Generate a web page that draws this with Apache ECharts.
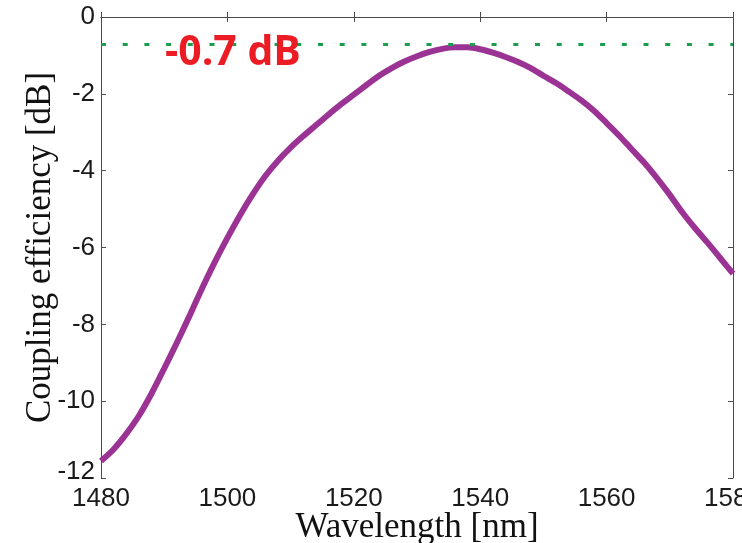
<!DOCTYPE html>
<html>
<head>
<meta charset="utf-8">
<script src="https://cdn.jsdelivr.net/npm/echarts@6/dist/echarts.min.js"></script>
<style>
html,body{margin:0;padding:0;background:#fff;}
#chart{width:742px;height:543px;}
</style>
</head>
<body>
<div id="chart"></div>
<script>
// Data
var wavelengths = [1480,1482,1484,1486,1488,1490,1492,1494,1496,1498,1500,1502,1504,1506,1508,1510,1512,1514,1516,1518,1520,1522,1524,1526,1528,1530,1532,1534,1536,1538,1540,1542,1544,1546,1548,1550,1552,1554,1556,1558,1560,1562,1564,1566,1568,1570,1572,1574,1576,1578,1580];
var couplingDb = [-11.56,-11.25,-10.85,-10.38,-9.80,-9.15,-8.48,-7.78,-7.06,-6.38,-5.75,-5.16,-4.62,-4.14,-3.74,-3.40,-3.10,-2.82,-2.54,-2.27,-2.02,-1.77,-1.53,-1.33,-1.16,-1.02,-0.91,-0.83,-0.79,-0.79,-0.84,-0.93,-1.04,-1.17,-1.33,-1.53,-1.72,-1.94,-2.17,-2.44,-2.76,-3.09,-3.45,-3.80,-4.20,-4.63,-5.09,-5.50,-5.88,-6.28,-6.68];
var referenceLevel = -0.7;
var referenceLabel = '-0.7 dB';
var xTicks = {min: 1480, max: 1580, interval: 20};
var yTicks = {min: -12, max: 0, interval: 2};

var seriesData = wavelengths.map(function (w, i) { return [w, couplingDb[i]]; });

var chart = echarts.init(document.getElementById('chart'), null, {renderer: 'canvas'});
var axisLineStyle = {color: '#4a4a4a', width: 1};
var tickStyle = {color: '#4a4a4a', width: 1};
var labelFont = {color: '#1a1a1a', fontFamily: 'Liberation Sans, Arial, sans-serif', fontSize: 26};
var plainNum = function (v) { return String(v); };
var yLabel = function (v) { return v === yTicks.min ? '{low|' + v + '}' : String(v); };

chart.setOption({
  animation: false,
  backgroundColor: '#ffffff',
  grid: {left: 101, right: 9, top: 17, bottom: 65, containLabel: false, outerBoundsMode: 'none'},
  xAxis: [{
    type: 'value', min: xTicks.min, max: xTicks.max, interval: xTicks.interval,
    position: 'bottom',
    name: 'Wavelength [nm]', nameLocation: 'middle', nameGap: 32, nameMoveOverlap: false,
    nameTextStyle: {fontFamily: 'Liberation Serif, Times New Roman, serif', fontSize: 35, color: '#111'},
    axisLine: {show: true, lineStyle: axisLineStyle},
    axisTick: {show: true, inside: true, length: 5, lineStyle: tickStyle},
    axisLabel: Object.assign({margin: 8, showMaxLabel: true, showMinLabel: true, formatter: plainNum, hideOverlap: false}, labelFont),
    splitLine: {show: false}
  }, {
    type: 'value', min: xTicks.min, max: xTicks.max, interval: xTicks.interval,
    position: 'top',
    axisLine: {show: true, lineStyle: axisLineStyle},
    axisTick: {show: true, inside: true, length: 5, lineStyle: tickStyle},
    axisLabel: {show: false},
    splitLine: {show: false}
  }],
  yAxis: [{
    type: 'value', min: yTicks.min, max: yTicks.max, interval: yTicks.interval,
    position: 'left',
    name: 'Coupling efficiency [dB]', nameLocation: 'middle', nameGap: 43, nameRotate: 90, nameMoveOverlap: false,
    nameTextStyle: {fontFamily: 'Liberation Serif, Times New Roman, serif', fontSize: 35, color: '#111'},
    axisLine: {show: true, lineStyle: axisLineStyle},
    axisTick: {show: true, inside: true, length: 5, lineStyle: tickStyle},
    axisLabel: Object.assign({margin: 6, formatter: yLabel,
      rich: {low: {fontFamily: 'Liberation Sans, Arial, sans-serif', fontSize: 26, color: '#1a1a1a', padding: [0, 0, 12, 0]}}}, labelFont),
    splitLine: {show: false}
  }, {
    type: 'value', min: yTicks.min, max: yTicks.max, interval: yTicks.interval,
    position: 'right',
    axisLine: {show: true, lineStyle: axisLineStyle},
    axisTick: {show: true, inside: true, length: 5, lineStyle: tickStyle},
    axisLabel: {show: false},
    splitLine: {show: false}
  }],
  series: [{
    type: 'line',
    data: seriesData,
    xAxisIndex: 0, yAxisIndex: 0,
    showSymbol: false,
    smooth: 0.25,
    lineStyle: {color: '#9b3395', width: 6},
    markLine: {
      silent: true,
      symbol: ['none', 'none'],
      label: {show: false},
      lineStyle: {color: '#1a9e4c', width: 3, type: [5, 16.7], opacity: 1},
      data: [{yAxis: referenceLevel}]
    },
    z: 3
  }],
  graphic: [{
    type: 'text',
    left: 165, top: 33,
    z: 10,
    style: {
      text: referenceLabel,
      fill: '#ec1c24',
      font: 'bold 41px "Open Sans", "Liberation Sans", sans-serif'
    }
  }]
});
</script>
</body>
</html>
